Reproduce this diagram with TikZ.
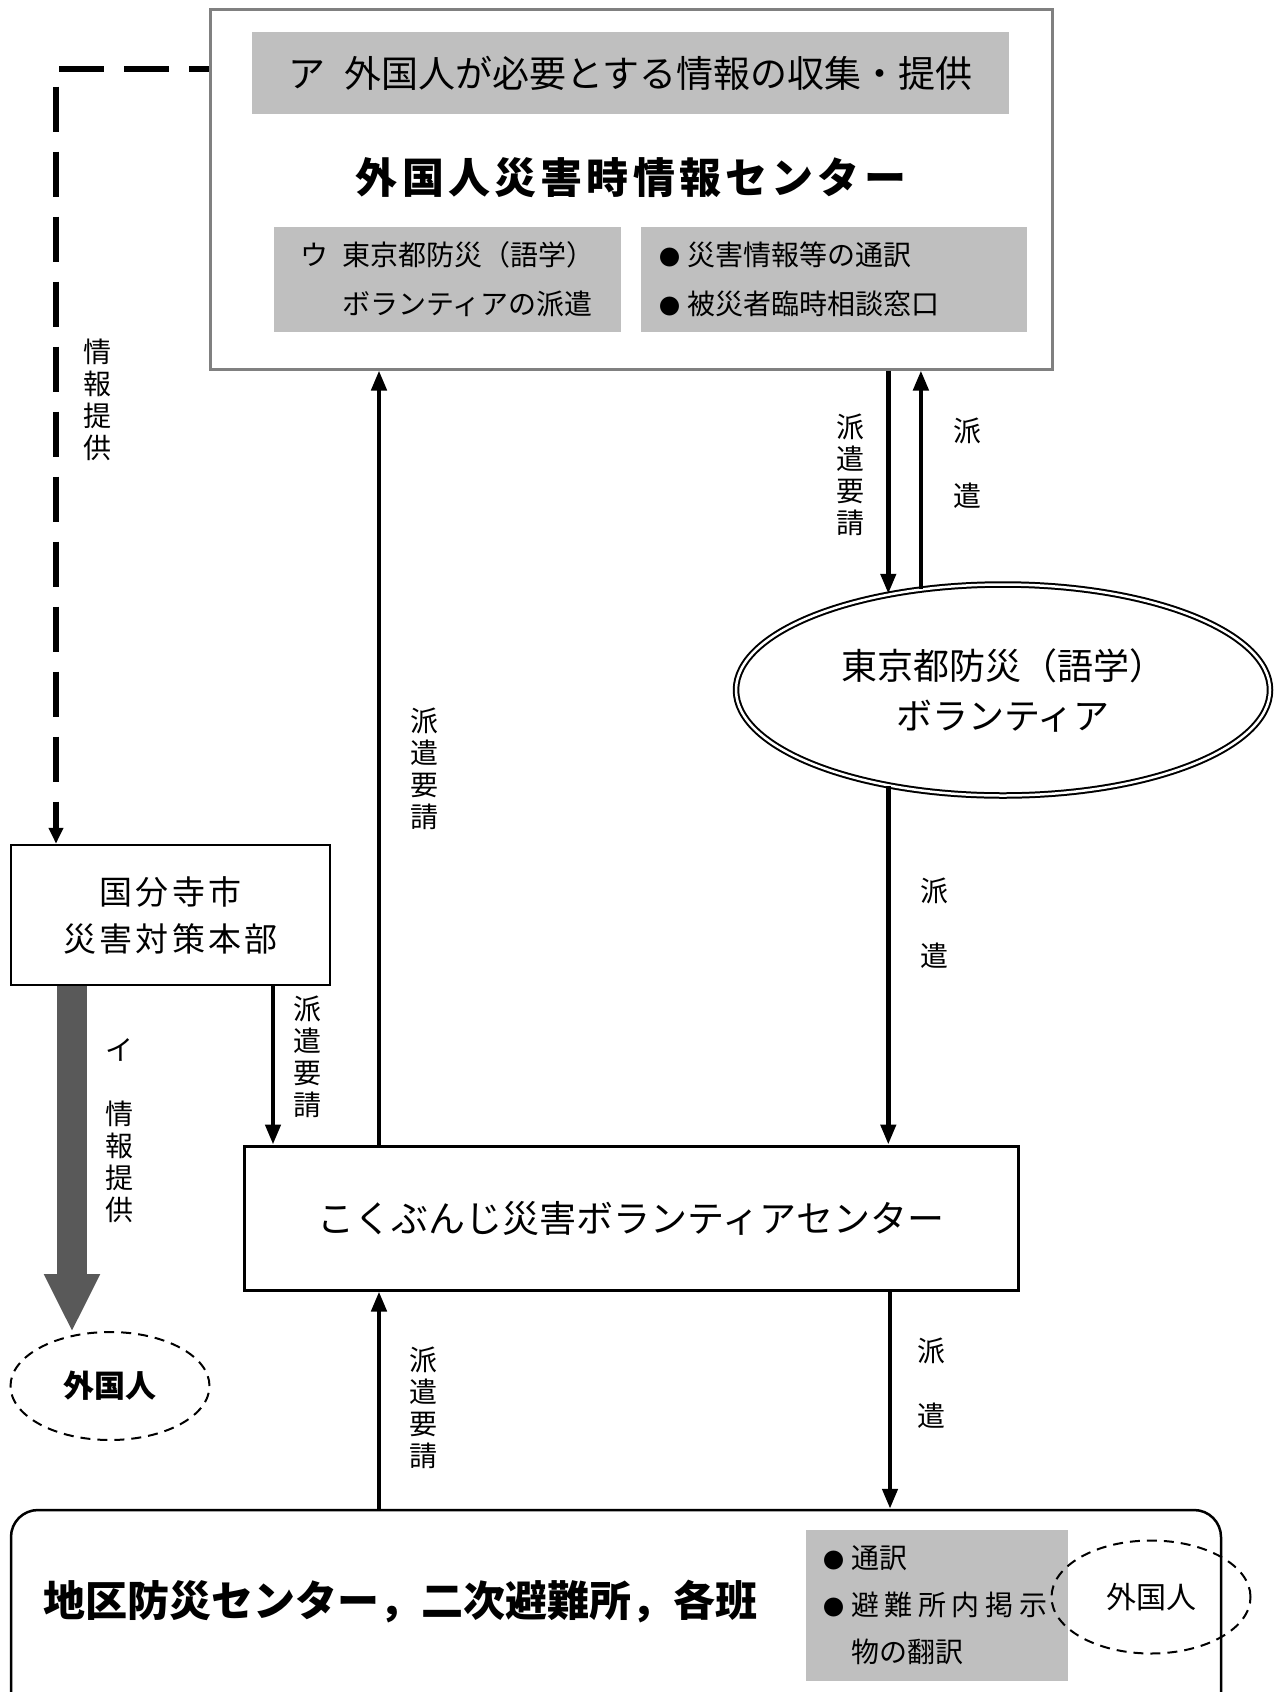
\documentclass[tikz,border=0pt]{standalone}
\usepackage{fontspec}
\setmainfont{Noto Sans CJK JP}
\newfontfamily\jpsp{Noto Sans CJK JP}[LetterSpace=10]
\newfontfamily\jpwide{Noto Sans CJK JP}[LetterSpace=20]
\usetikzlibrary{arrows.meta,shapes.geometric}
\newcommand{\bul}{\makebox[28pt][l]{\fontsize{21}{21}\selectfont ●}}

\begin{document}
\begin{tikzpicture}[x=1pt,y=-1pt,
    frame/.style={draw,line width=2.5pt,inner sep=0pt},
    graybox/.style={fill=boxgray,inner sep=0pt},
    arr/.style={line width=4.5pt,-{Triangle[width=15pt,length=20pt]}},
    vlabel/.style={align=center,inner sep=0pt,font=\fontsize{28}{32}\selectfont},
    dashoval/.style={ellipse,draw,line width=2pt,dash pattern=on 10pt off 7pt,inner sep=0pt}]
  \definecolor{boxgray}{HTML}{BFBFBF}
  \definecolor{framegray}{HTML}{808080}
  \definecolor{arrowgray}{HTML}{595959}

  \useasboundingbox (0,0) rectangle (1274,1692);
  \clip (0,0) rectangle (1274,1692);

  % information centre
  \node (top) [draw=framegray,line width=3pt,inner sep=0pt,minimum width=842,minimum height=360] at (631,189) {};
  \node (collect) [graybox,minimum width=757,minimum height=82,font=\fontsize{37}{42}\selectfont]
    at (630.5,73) {ア\hspace{0.5em}外国人が必要とする情報の収集・提供};
  \node (title) [font=\jpsp\bfseries\fontsize{42}{48}\selectfont] at (631,178) {外国人災害時情報センター};
  \node (dispatch) [graybox,minimum width=347,minimum height=105,align=left,font=\fontsize{28}{49}\selectfont]
    at (447.5,279.5) {ウ\hspace*{0.5em}東京都防災（語学）\\\hspace*{1.5em}ボランティアの派遣};
  \node (interp) [graybox,minimum width=386,minimum height=105,inner xsep=18pt,text width=350pt,
    align=left,font=\fontsize{28}{49}\selectfont]
    at (834,279.5) {\bul 災害情報等の通訳\\\bul 被災者臨時相談窓口};

  % volunteers
  \node (tokyo) [ellipse,draw,line width=2pt,double=white,double distance=2.5pt,inner sep=0pt,
    minimum width=534,minimum height=211,align=center,font=\fontsize{36}{50}\selectfont]
    at (1003,690) {東京都防災（語学）\\ボランティア};

  % city headquarters
  \node (honbu) [frame,minimum width=319,minimum height=140,align=center,font=\jpsp\fontsize{33}{47}\selectfont]
    at (170.5,915) {\raisebox{-4pt}{国分寺市}\\\raisebox{-4pt}{災害対策本部}};
  \node (foreign1) [dashoval,minimum width=199,minimum height=108,font=\bfseries\fontsize{31}{36}\selectfont]
    at (110,1386) {外国人};

  \node (vc) [draw,line width=3pt,inner sep=0pt,minimum width=774,minimum height=144,font=\fontsize{37}{42}\selectfont]
    at (631,1218) {こくぶんじ災害ボランティアセンター};

  % shelters
  \node (chiku) [frame,rounded corners=27pt,minimum width=1210,minimum height=220] at (616,1620) {};
  \node (chikutxt) [font=\bfseries\fontsize{42}{48}\selectfont] at (400,1602) {地区防災センター，二次避難所，各班};
  \node (transl) [graybox,minimum width=262,minimum height=151] at (937,1605.5) {};
  \node (transltxt) [anchor=west,inner sep=0pt,align=left,font=\fontsize{28}{47}\selectfont]
    at ([xshift=17pt]transl.west) {\bul 通訳\\\bul{\jpwide 避難所内掲示}\\\hspace*{1em}物の翻訳};
  \node (foreign2) [dashoval,minimum width=199,minimum height=113,font=\fontsize{30}{36}\selectfont]
    at (1151,1597) {外国人};

  \coordinate (corner) at (56,69);
  \coordinate (fatx) at (72,1332);
  \coordinate (hx) at (273,0);
  \coordinate (lx) at (379,0);
  \coordinate (rx) at (890,0);

  % connectors
  \draw[line width=5.5pt,dash pattern=on 45pt off 20pt,dash phase=25pt,-{Triangle[width=14pt,length=16pt]}]
    (top.west |- corner) -- (corner) -- (corner |- honbu.north);
  \draw[line width=30pt,draw=arrowgray,-{Triangle[width=52pt,length=58pt]}] (honbu.south -| fatx) -- (fatx);
  \draw[arr] (honbu.south -| hx) -- (vc.north -| hx);
  \draw[arr] (vc.north -| lx) -- (top.south -| lx);
  \draw[arr] (top.south -| tokyo.140) -- (tokyo.140);
  \draw[arr] (tokyo.129) -- (top.south -| tokyo.129);
  \draw[arr] (tokyo.220) -- (vc.north -| tokyo.220);
  \draw[arr] (chiku.north -| lx) -- (vc.south -| lx);
  \draw[arr] (vc.south -| rx) -- (chiku.north -| rx);

  % labels
  \node (lbinfo) [vlabel] at (97,400) {情\\報\\提\\供};
  \node (lbinfo2) [vlabel] at (119,1131) {イ\\[32pt]情\\報\\提\\供};
  \node (lbreq1) [vlabel] at (307,1057) {派\\遣\\要\\請};
  \node (lbreq2) [vlabel] at (424,769) {派\\遣\\要\\請};
  \node (lbreq3) [vlabel] at (850,475) {派\\遣\\要\\請};
  \node (lbreq4) [vlabel] at (423,1408) {派\\遣\\要\\請};
  \node (lbsend1) [vlabel] at (967,463) {派\\[33pt]遣};
  \node (lbsend2) [vlabel] at (934,923) {派\\[33pt]遣};
  \node (lbsend3) [vlabel] at (931,1383) {派\\[33pt]遣};
\end{tikzpicture}
\end{document}
